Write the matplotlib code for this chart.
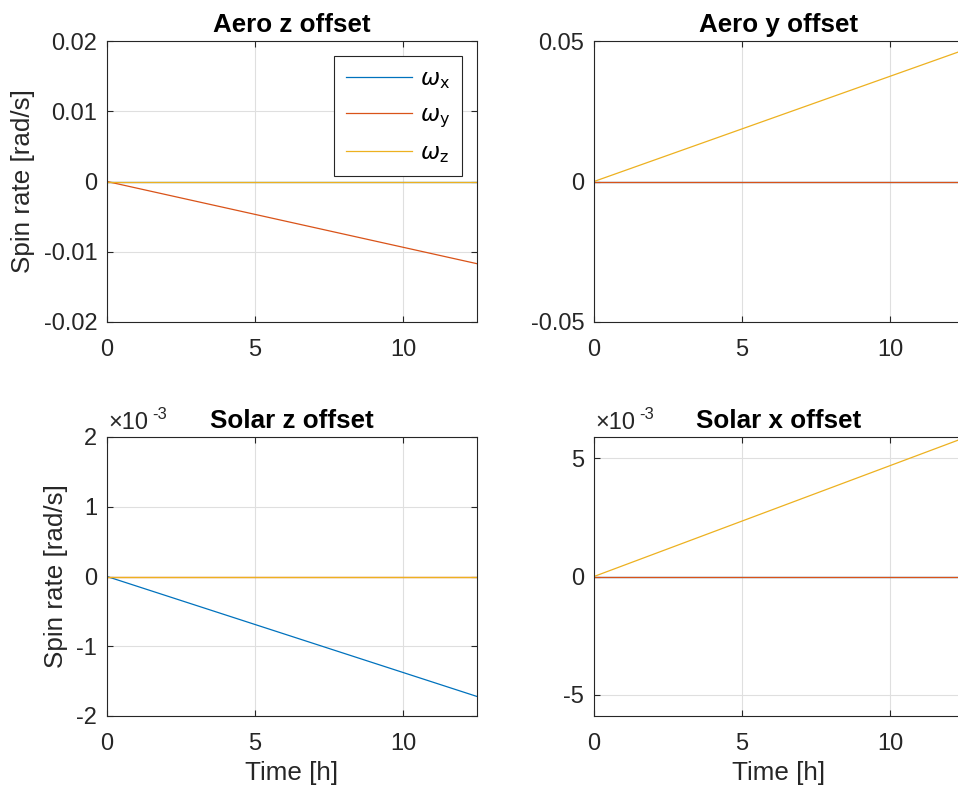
import matplotlib
matplotlib.use("Agg")
import matplotlib.pyplot as plt

matplotlib.rc('font', family=['Liberation Sans', 'DejaVu Sans'])
matplotlib.rc('axes', unicode_minus=False)

# time span of the simulation [h]
time_h = [0, 12.5]

# spin rates [rad/s] at start and end of each run
aero_z_wx = [0, 0]
aero_z_wy = [0, -0.0117]
aero_z_wz = [0, 0]

aero_y_wx = [0, 0]
aero_y_wy = [0, 0]
aero_y_wz = [0, 0.0468]

solar_z_wx = [0, -0.00172]
solar_z_wy = [0, 0]
solar_z_wz = [0, 0]

solar_x_wx = [0, 0]
solar_x_wy = [0, 0]
solar_x_wz = [0, 0.00586]

titles = ["Aero z offset", "Aero y offset", "Solar z offset", "Solar x offset"]
ylims = [(-0.02, 0.02), (-0.05, 0.05), (-0.002, 0.002), (-0.0059, 0.0059)]
yticks = [[-0.02, -0.01, 0, 0.01, 0.02], [-0.05, 0, 0.05],
          [-0.002, -0.001, 0, 0.001, 0.002], [-0.005, 0, 0.005]]
ytick_labels = [["-0.02", "-0.01", "0", "0.01", "0.02"], ["-0.05", "0", "0.05"],
                ["-2", "-1", "0", "1", "2"], ["-5", "0", "5"]]
xticks = [0, 5, 10]
series = [(aero_z_wx, aero_z_wy, aero_z_wz), (aero_y_wx, aero_y_wy, aero_y_wz),
          (solar_z_wx, solar_z_wy, solar_z_wz), (solar_x_wx, solar_x_wy, solar_x_wz)]

colors = ['#0072BD', '#D95319', '#EDB120']
names = [r'$\omega_{\mathrm{x}}$', r'$\omega_{\mathrm{y}}$', r'$\omega_{\mathrm{z}}$']

tick_fs = 17
label_fs = 18.7

fig = plt.figure(figsize=(9.58, 7.89), dpi=100)

W, H = 958.0, 789.0
boxes = [(107, 41, 477, 322), (594, 41, 964, 322),
         (107, 437, 477, 716), (594, 437, 964, 716)]

for i, (x0, y0, x1, y1) in enumerate(boxes):
    ax = fig.add_axes([x0 / W, 1 - y1 / H, (x1 - x0) / W, (y1 - y0) / H])
    for k in range(3):
        ax.plot(time_h, series[i][k], color=colors[k], lw=0.9, label=names[k])
    ax.set_xlim(0, 12.5)
    ax.set_ylim(*ylims[i])
    ax.set_xticks(xticks)
    ax.set_xticklabels([str(t) for t in xticks])
    ax.set_yticks(yticks[i])
    ax.set_yticklabels(ytick_labels[i])
    ax.grid(True, color='#dfdfdf', lw=0.8)
    ax.set_axisbelow(True)
    ax.tick_params(direction='in', top=True, right=True, length=4,
                   colors='#262626', labelsize=tick_fs)
    ax.tick_params(axis='x', pad=12.5)
    ax.tick_params(axis='y', pad=7)
    for sp in ax.spines.values():
        sp.set_color('#262626')
        sp.set_linewidth(0.8)
    ax.set_title(titles[i], fontsize=label_fs, fontweight='bold', pad=6.5)
    if i % 2 == 0:
        ax.set_ylabel('Spin rate [rad/s]', fontsize=label_fs, color='#262626',
                      labelpad=6)
    if i >= 2:
        ax.set_xlabel('Time [h]', fontsize=label_fs, color='#262626', labelpad=4)
        ax.text(0.005, 1.01, u'\u00d710', transform=ax.transAxes,
                fontsize=tick_fs, ha='left', va='bottom', color='#262626')
        ax.text(0.123, 1.055, '-3', transform=ax.transAxes,
                fontsize=12, ha='left', va='bottom', color='#262626')
    if i == 0:
        leg = ax.legend(loc='upper right', bbox_to_anchor=(0.959, 0.947),
                        borderaxespad=0, fancybox=False, edgecolor='#262626',
                        framealpha=1, handlelength=2.9, handletextpad=0.35,
                        labelspacing=0.5, fontsize=16.5, borderpad=0.5)
        leg.get_frame().set_linewidth(0.8)

fig.savefig('out.png', dpi=100)
